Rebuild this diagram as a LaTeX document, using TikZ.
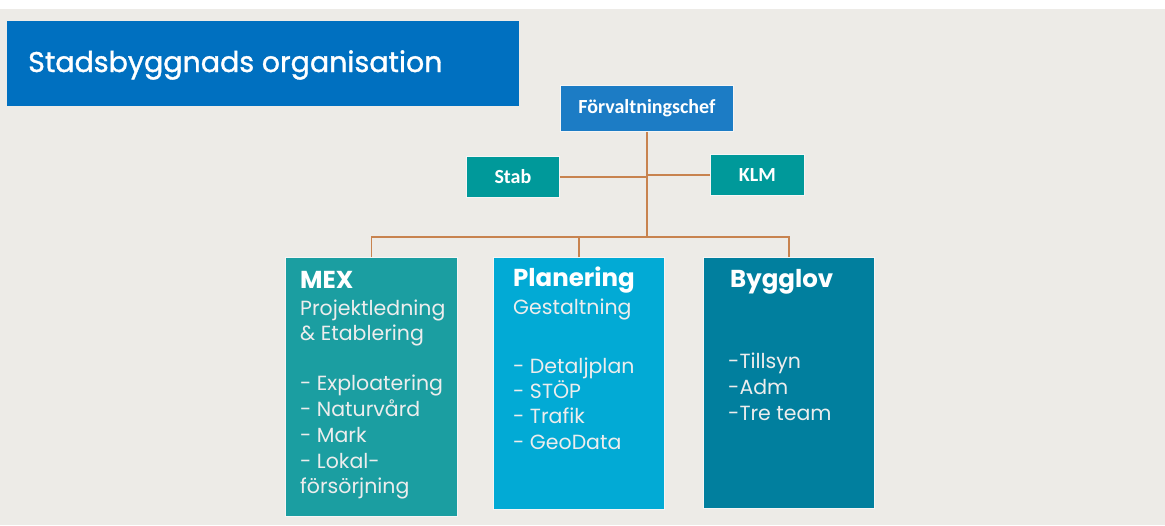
\documentclass[tikz,border=0pt]{standalone}
\usepackage{fontspec}
\setmainfont{Poppins}
\newfontfamily\calfont{Carlito}
\newfontfamily\titlefont[FakeBold=1.2]{Poppins}
\definecolor{bgc}{HTML}{EDEBE7}
\definecolor{titlec}{HTML}{0070C0}
\definecolor{forvc}{HTML}{1C7CC5}
\definecolor{tealc}{HTML}{00999A}
\definecolor{mexc}{HTML}{1B9EA1}
\definecolor{planc}{HTML}{02AAD5}
\definecolor{bygc}{HTML}{017F9E}
\definecolor{linec}{HTML}{C8834F}
\tikzset{
  box/.style={draw=white!92!gray, line width=0.8pt, inner sep=0pt, anchor=north west},
  small/.style={text=white, font=\calfont\bfseries\fontsize{20}{24}\selectfont, inner sep=0pt},
  head/.style={text=white, font=\bfseries\fontsize{24.5}{29}\selectfont, anchor=base west, inner sep=0pt},
  body/.style={text=white!93!black, font=\fontsize{20.5}{24}\selectfont, anchor=base west, inner sep=0pt},
  conn/.style={draw=linec, line width=1.3pt}
}
\begin{document}
\begin{tikzpicture}[x=1pt,y=-1pt]
\useasboundingbox (0,0) rectangle (1165,525);
\fill[white] (0,0) rectangle (1165,9);
\fill[bgc] (0,9) rectangle (1165,525);
% title
\node[box, draw=none, fill=titlec, minimum width=512pt, minimum height=85pt] (title) at (7,21) {};
\node[anchor=base west, inner sep=0pt, text=white, font=\titlefont\fontsize{28.5}{33}\selectfont] (titletext) at (28,72) {Stadsbyggnads organisation};
% top boxes
\node[box, fill=forvc, minimum width=173pt, minimum height=46pt] (forv) at (560,85) {};
\node[small] (forvtext) at (forv.center) {Förvaltningschef};
\node[box, fill=tealc, minimum width=93pt, minimum height=41pt] (stab) at (466,156) {};
\node[small] (stabtext) at (stab.center) {Stab};
\node[box, fill=tealc, minimum width=94pt, minimum height=41pt] (klm) at (710,154) {};
\node[small] (klmtext) at (klm.center) {KLM};
% main boxes
\node[box, fill=mexc, minimum width=172pt, minimum height=259pt] (mex) at (285,257) {};
\node[box, fill=planc, minimum width=171pt, minimum height=252pt] (plan) at (493,257) {};
\node[box, fill=bygc, minimum width=171pt, minimum height=251pt] (byg) at (703,257) {};
% connectors
\coordinate (bus) at (647,237);
\draw[conn] (forv.south) -- (forv.south |- bus);
\draw[conn] (stab.east) -- (stab.east -| forv.south);
\draw[conn] (klm.west) -- (klm.west -| forv.south);
\draw[conn] (mex.north) |- (bus) -| (byg.north);
\draw[conn] (plan.north) -- (plan.north |- bus);
% MEX text
\node[head] (m0) at (300,288) {MEX};
\node[body] (m1) at (300,315) {Projektledning};
\node[body] (m2) at (300,340) {\& Etablering};
\node[body] (m3) at (300,390) {- Exploatering};
\node[body] (m4) at (300,416) {- Naturvård};
\node[body] (m5) at (300,442) {- Mark};
\node[body] (m6) at (300,468) {- Lokal-};
\node[body] (m7) at (300,493) {försörjning};
% Planering text
\node[head] (p0) at (513,286) {Planering};
\node[body] (p1) at (513,314) {Gestaltning};
\node[body] (p2) at (513,373) {- Detaljplan};
\node[body] (p3) at (513,398) {- STÖP};
\node[body] (p4) at (513,423) {- Trafik};
\node[body] (p5) at (513,449) {- GeoData};
% Bygglov text
\node[head] (b0) at (730,287) {Bygglov};
\node[body] (b1) at (728,368) {-Tillsyn};
\node[body] (b2) at (728,394) {-Adm};
\node[body] (b3) at (728,420) {-Tre team};
\end{tikzpicture}
\end{document}
